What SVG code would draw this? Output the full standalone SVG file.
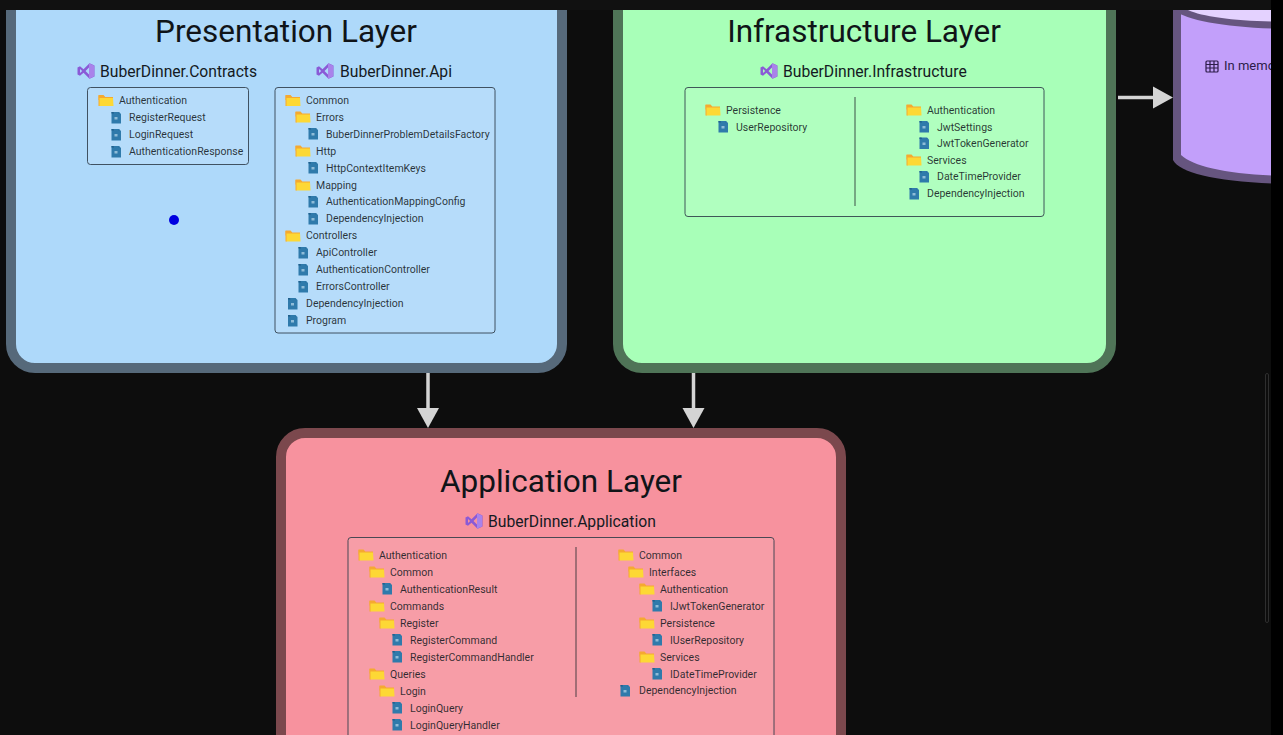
<svg xmlns="http://www.w3.org/2000/svg" xmlns:xlink="http://www.w3.org/1999/xlink" width="1283" height="735" viewBox="0 0 1283 735">
<style>
text{font-family:Roboto,"Liberation Sans",sans-serif;fill:#141a22}
.t{font-size:31.500px;text-anchor:middle;fill:#101418}
.s{font-size:15.700px}
.r{font-size:10.500px;fill-opacity:.88}
.box{fill:#ffffff;fill-opacity:.1;stroke:#2c3a46;stroke-opacity:.85;stroke-width:1}
.d{stroke:#20262c;stroke-opacity:.8;stroke-width:1}
.c{fill:none;stroke:#d4d4d4;stroke-width:3.500}
.h{fill:#d4d4d4}
</style>
<defs>
<symbol id="f" overflow="visible"><path d="M-7.500-5.500h5l1.800 2h7.700v3h-14.500z" fill="#f5a930"/><path d="M-7.500-5h1.500v10.500h-1.500z" fill="#f5a930"/><path d="M-6.500-2.500h13.500l.500 8h-14z" fill="#fdd835"/></symbol>
<symbol id="c" overflow="visible"><path d="M-4.500-6h7.500l2 2v9.500h-9.500z" fill="#2f7aab"/><path d="M-4.500-6h2l.5 1.500h4.500l1-1.500-.5 1.500h-7.500z" fill="#1f5f8c"/><rect x="-1.500" y="-1" width="3" height="2.500" fill="#8fbcd8"/></symbol>
<symbol id="v" overflow="visible"><path d="M-8.500-3.500l2.500-1.300 3.500 3 6-6 5 2.300v11l-5 2.300-6-6-3.500 3-2.500-1.300zM-6-2v4l2.200-2zM3-3.500l-3.500 3.500 3.500 3.500z" fill="#8a5ad6" fill-rule="evenodd"/><path d="M3-7.800l5 2.300v11l-5 2.300zM3-3.500v7l0 0z" fill="#a982ea"/></symbol>
</defs>
<rect width="1283" height="735" fill="#0d0d0d"/>
<g id="presentation">
<rect x="11" y="-40" width="551" height="408" rx="24" fill="#aed9fa" stroke="#56697a" stroke-width="10"/>
<text class="t" x="286" y="42">Presentation Layer</text>
<use xlink:href="#v" x="86" y="71"/><text class="s" x="100" y="77">BuberDinner.Contracts</text>
<use xlink:href="#v" x="325" y="71"/><text class="s" x="340" y="77">BuberDinner.Api</text>
<rect class="box" x="87.500" y="87.500" width="161" height="77" rx="3"/>
<use xlink:href="#f" x="106" y="100.500"/><text class="r" x="119" y="104">Authentication</text>
<use xlink:href="#c" x="116" y="118"/><text class="r" x="129" y="121">RegisterRequest</text>
<use xlink:href="#c" x="116" y="135"/><text class="r" x="129" y="138">LoginRequest</text>
<use xlink:href="#c" x="116" y="152"/><text class="r" x="129" y="155">AuthenticationResponse</text>
<circle cx="174" cy="220" r="5" fill="#0000e0"/>
<rect class="box" x="275" y="87.500" width="220" height="245.500" rx="3"/>
<use xlink:href="#f" x="293" y="100.500"/><text class="r" x="306" y="104">Common</text>
<use xlink:href="#f" x="303" y="117"/><text class="r" x="316" y="121">Errors</text>
<use xlink:href="#c" x="313" y="134"/><text class="r" x="326" y="137.500">BuberDinnerProblemDetailsFactory</text>
<use xlink:href="#f" x="303" y="151"/><text class="r" x="316" y="154.500">Http</text>
<use xlink:href="#c" x="313" y="168"/><text class="r" x="326" y="171.500">HttpContextItemKeys</text>
<use xlink:href="#f" x="303" y="185"/><text class="r" x="316" y="188.500">Mapping</text>
<use xlink:href="#c" x="313" y="202"/><text class="r" x="326" y="205">AuthenticationMappingConfig</text>
<use xlink:href="#c" x="313" y="219"/><text class="r" x="326" y="222">DependencyInjection</text>
<use xlink:href="#f" x="293" y="236"/><text class="r" x="306" y="239">Controllers</text>
<use xlink:href="#c" x="303" y="253"/><text class="r" x="316" y="256">ApiController</text>
<use xlink:href="#c" x="303" y="270"/><text class="r" x="316" y="273">AuthenticationController</text>
<use xlink:href="#c" x="303" y="287"/><text class="r" x="316" y="290">ErrorsController</text>
<use xlink:href="#c" x="292.500" y="304"/><text class="r" x="306" y="307">DependencyInjection</text>
<use xlink:href="#c" x="292.500" y="321"/><text class="r" x="306" y="324">Program</text>
</g>
<g id="infrastructure">
<rect x="618" y="-40" width="493" height="408" rx="24" fill="#a8ffb8" stroke="#4f7457" stroke-width="10"/>
<text class="t" x="864" y="42">Infrastructure Layer</text>
<use xlink:href="#v" x="769" y="71"/><text class="s" x="783" y="77">BuberDinner.Infrastructure</text>
<rect class="box" x="685" y="87.500" width="359" height="129" rx="3"/>
<line class="d" x1="855" y1="97" x2="855" y2="206"/>
<use xlink:href="#f" x="713" y="110"/><text class="r" x="726" y="113.500">Persistence</text>
<use xlink:href="#c" x="723" y="127"/><text class="r" x="736" y="130.500">UserRepository</text>
<use xlink:href="#f" x="914" y="110"/><text class="r" x="927" y="113.500">Authentication</text>
<use xlink:href="#c" x="924" y="127"/><text class="r" x="937" y="130.500">JwtSettings</text>
<use xlink:href="#c" x="924" y="143.500"/><text class="r" x="937" y="147">JwtTokenGenerator</text>
<use xlink:href="#f" x="914" y="160"/><text class="r" x="927" y="163.500">Services</text>
<use xlink:href="#c" x="924" y="177"/><text class="r" x="937" y="180">DateTimeProvider</text>
<use xlink:href="#c" x="914" y="194"/><text class="r" x="927" y="197">DependencyInjection</text>
</g>
<g id="database">
<path d="M1173 5V160C1180 174 1225 184 1300 184V5z" fill="#66557f"/>
<path d="M1181 5V155C1195 168 1235 176 1300 176V5z" fill="#c29ffa"/>
<path d="M1173 5V10C1190 22 1235 29 1300 29V5z" fill="#66557f"/>
<path d="M1188 5V10C1205 18 1245 22 1300 22V5z" fill="#e4d2ff"/>
<g fill="none" stroke="#2c1c48" stroke-width="1.200"><rect x="1206" y="61" width="12" height="11" rx="1"/><path d="M1206 64.500h12M1206 68h12M1210 61v11M1214 61v11"/></g>
<text x="1224" y="70" font-size="13" style="fill:#2c1c48">In memo</text>
</g>
<g id="application">
<rect x="281" y="433" width="560" height="360" rx="24" fill="#f7929e" stroke="#7b484d" stroke-width="10"/>
<text class="t" x="561" y="492">Application Layer</text>
<use xlink:href="#v" x="474" y="521"/><text class="s" x="488" y="527">BuberDinner.Application</text>
<rect class="box" x="348" y="537.500" width="426" height="240" rx="3"/>
<line class="d" x1="576" y1="547" x2="576" y2="697"/>
<use xlink:href="#f" x="366" y="555"/><text class="r" x="379" y="558.500">Authentication</text>
<use xlink:href="#f" x="377" y="572"/><text class="r" x="390" y="575.500">Common</text>
<use xlink:href="#c" x="387" y="589"/><text class="r" x="400" y="592.500">AuthenticationResult</text>
<use xlink:href="#f" x="377" y="606"/><text class="r" x="390" y="609.500">Commands</text>
<use xlink:href="#f" x="387" y="623"/><text class="r" x="400" y="626.500">Register</text>
<use xlink:href="#c" x="397" y="640"/><text class="r" x="410" y="643.500">RegisterCommand</text>
<use xlink:href="#c" x="397" y="657"/><text class="r" x="410" y="660.500">RegisterCommandHandler</text>
<use xlink:href="#f" x="377" y="674"/><text class="r" x="390" y="677.500">Queries</text>
<use xlink:href="#f" x="387" y="691"/><text class="r" x="400" y="694.500">Login</text>
<use xlink:href="#c" x="397" y="708"/><text class="r" x="410" y="711.500">LoginQuery</text>
<use xlink:href="#c" x="397" y="725"/><text class="r" x="410" y="728.500">LoginQueryHandler</text>
<use xlink:href="#f" x="626" y="555"/><text class="r" x="639" y="558.500">Common</text>
<use xlink:href="#f" x="636" y="572"/><text class="r" x="649" y="575.500">Interfaces</text>
<use xlink:href="#f" x="647" y="589"/><text class="r" x="660" y="592.500">Authentication</text>
<use xlink:href="#c" x="657" y="606"/><text class="r" x="670" y="609.500">IJwtTokenGenerator</text>
<use xlink:href="#f" x="647" y="623"/><text class="r" x="660" y="626.500">Persistence</text>
<use xlink:href="#c" x="657" y="640"/><text class="r" x="670" y="643.500">IUserRepository</text>
<use xlink:href="#f" x="647" y="657"/><text class="r" x="660" y="660.500">Services</text>
<use xlink:href="#c" x="657" y="674"/><text class="r" x="670" y="677.500">IDateTimeProvider</text>
<use xlink:href="#c" x="625" y="691"/><text class="r" x="639" y="694">DependencyInjection</text>
</g>
<g id="connectors">
<path class="c" d="M428 373V408"/><path class="h" d="M417 408h22l-11 20z"/>
<path class="c" d="M693.500 373V408"/><path class="h" d="M682.500 408h22l-11 20z"/>
<path class="c" d="M1118 97.500H1154"/><path class="h" d="M1153 86.500v22l20-11z"/>
</g>
<rect id="topbar" width="1283" height="10" fill="#111111"/>
<rect id="sidebar" x="1271" width="12" height="735" fill="#000"/>
<rect id="scroll" x="1265.500" y="373.500" width="3" height="249" rx="1.500" fill="none" stroke="#2e2e2e"/>
</svg>
